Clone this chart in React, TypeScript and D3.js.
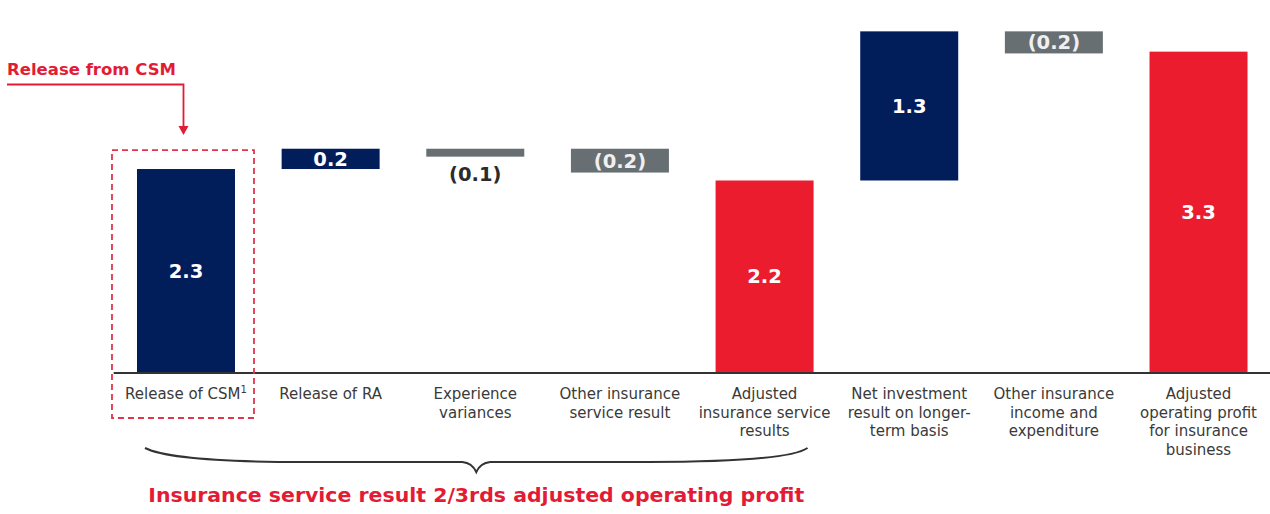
import React, { useRef, useEffect } from 'react';
import * as d3 from 'd3';

// waterfall: bar extents as drawn (chart units), labels as printed
const categories = ['csm', 'ra', 'exp', 'other', 'adjIsr', 'netInv', 'otherInc', 'adjOp'];
const categoryLines: string[][] = [
  ['Release of CSM'],
  ['Release of RA'],
  ['Experience', 'variances'],
  ['Other insurance', 'service result'],
  ['Adjusted', 'insurance service', 'results'],
  ['Net investment', 'result on longer-', 'term basis'],
  ['Other insurance', 'income and', 'expenditure'],
  ['Adjusted', 'operating profit', 'for insurance', 'business'],
];
const valueLabels = ['2.3', '0.2', '(0.1)', '(0.2)', '2.2', '1.3', '(0.2)', '3.3'];
const barStart = [0, 2.3, 2.44, 2.26, 0, 2.17, 3.61, 0];
const barEnd = [2.3, 2.53, 2.53, 2.53, 2.17, 3.86, 3.86, 3.63];
const barKind = ['up', 'up', 'down', 'down', 'total', 'up', 'down', 'total'];

const COLORS: Record<string, string> = { up: '#011e5b', down: '#686f73', total: '#ec1c2f' };
const RED = '#e31b34';
const FONT = 'DejaVu Sans';

const W = 1270;
const H = 514;

const App = () => {
  const svgRef = useRef<SVGSVGElement | null>(null);

  useEffect(() => {
    const svg = d3.select(svgRef.current);
    svg.selectAll('*').remove();

    const x = d3.scaleBand<string>().domain(categories).range([113.7, 1270.8])
      .paddingInner(0.3225).paddingOuter(0.161);
    const y = d3.scaleLinear().domain([0, 4]).range([372, 19]);
    const bw = x.bandwidth();

    // bars
    svg.selectAll('.bar')
      .data(categories)
      .enter().append('rect')
      .attr('class', 'bar')
      .attr('x', d => x(d)!)
      .attr('width', bw)
      .attr('y', (d, i) => y(barEnd[i]))
      .attr('height', (d, i) => y(barStart[i]) - y(barEnd[i]))
      .attr('fill', (d, i) => COLORS[barKind[i]]);

    // baseline
    svg.append('line')
      .attr('x1', x.range()[0]).attr('x2', W)
      .attr('y1', y(0) + 1).attr('y2', y(0) + 1)
      .attr('stroke', '#333').attr('stroke-width', 2);

    // value labels: inside the bar, or below it if too thin
    svg.selectAll('.val')
      .data(categories)
      .enter().append('text')
      .attr('class', 'val')
      .attr('x', d => x(d)! + bw / 2)
      .attr('y', (d, i) => {
        const top = y(barEnd[i]);
        const bot = y(barStart[i]);
        if (bot - top < 14) return bot + 17;
        return (top + bot) / 2;
      })
      .attr('dy', '0.36em')
      .attr('text-anchor', 'middle')
      .style('font-family', FONT)
      .attr('font-weight', 'bold')
      .attr('font-size', 19.5)
      .attr('fill', (d, i) => {
        if (y(barStart[i]) - y(barEnd[i]) < 14) return '#2b2b2b';
        return barKind[i] === 'down' ? '#f0f0f0' : '#fff';
      })
      .text((d, i) => valueLabels[i]);

    // category labels
    const cat = svg.selectAll('.cat')
      .data(categories)
      .enter().append('text')
      .attr('class', 'cat')
      .attr('text-anchor', 'middle')
      .style('font-family', FONT)
      .attr('font-size', 15)
      .attr('fill', '#3a3a3a');
    cat.each(function (d, i) {
      const t = d3.select(this);
      categoryLines[i].forEach((line, j) => {
        t.append('tspan')
          .attr('x', x(d)! + bw / 2)
          .attr('y', 399 + j * 18.6)
          .text(line);
      });
      if (i === 0) {
        t.append('tspan').attr('font-size', 10).attr('dy', -6).text('1');
      }
    });

    // dashed box around release of CSM
    const x0 = x(categories[0])!;
    svg.append('rect')
      .attr('x', x0 - 25).attr('y', y(barEnd[0]) - 19)
      .attr('width', 142).attr('height', 418 - (y(barEnd[0]) - 19))
      .attr('fill', 'none')
      .attr('stroke', '#e0354c').attr('stroke-width', 1.8)
      .attr('stroke-dasharray', '6 4');

    // "Release from CSM" callout + arrow
    svg.append('text')
      .attr('x', 7).attr('y', 75)
      .style('font-family', FONT).attr('font-weight', 'bold').attr('font-size', 16.5)
      .attr('fill', RED)
      .text('Release from CSM');
    const ax = x0 + bw / 2 - 2.5;
    svg.append('path')
      .attr('d', `M7,84.5 H${ax} V127`)
      .attr('fill', 'none').attr('stroke', RED).attr('stroke-width', 1.8);
    svg.append('path')
      .attr('d', `M${ax - 5},126 L${ax + 5},126 L${ax},135 Z`)
      .attr('fill', RED);

    // brace under the first five columns
    const bx1 = x(categories[0])! + 8;
    const bx2 = x(categories[4])! + bw - 6;
    const mid = (bx1 + bx2) / 2;
    svg.append('path')
      .attr('d', `M${bx1},448 C${bx1 + 20},458 ${bx1 + 80},462 ${bx1 + 160},462 L${mid - 14},462 Q${mid - 4},463 ${mid},472 Q${mid + 4},463 ${mid + 14},462 L${bx2 - 160},462 C${bx2 - 80},462 ${bx2 - 15},458 ${bx2},448`)
      .attr('fill', 'none').attr('stroke', '#333').attr('stroke-width', 2);

    svg.append('text')
      .attr('x', mid).attr('y', 502)
      .attr('text-anchor', 'middle')
      .style('font-family', FONT).attr('font-weight', 'bold').attr('font-size', 19)
      .attr('textLength', 656).attr('lengthAdjust', 'spacingAndGlyphs')
      .attr('fill', RED)
      .text('Insurance service result 2/3rds adjusted operating profit');
  }, []);

  return (
    <svg ref={svgRef} width={W} height={H}
      style={{ position: 'absolute', left: 0, top: 0, display: 'block', background: '#fff' }} />
  );
};

export default App;
